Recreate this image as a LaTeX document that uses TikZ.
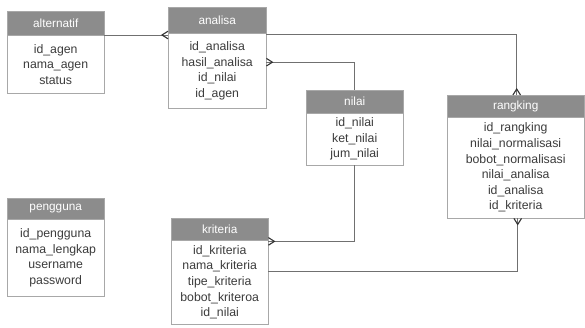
\documentclass[tikz,border=0pt]{standalone}
\usepackage{fontspec}
\setmainfont{Liberation Sans}
\usetikzlibrary{shadows}
\definecolor{hdrgray}{HTML}{8C8C8C}
\definecolor{boxgray}{HTML}{A8A8A8}
\definecolor{txtgray}{HTML}{3C3C3C}
\definecolor{linegray}{HTML}{707070}
\begin{document}
\begin{tikzpicture}[x=1pt,y=-1pt,
 shd/.style={drop shadow={shadow xshift=1.2pt, shadow yshift=-1.2pt, opacity=0.22, fill=black}},
 hdr/.style={draw=boxgray, fill=hdrgray, text=white, inner sep=0pt, anchor=north west, shd,
   font=\fontsize{11.8}{13}\selectfont},
 tbody/.style={draw=boxgray, fill=white, text=txtgray, inner sep=0pt, anchor=north west, align=center, shd,
   font=\fontsize{12.3}{15.6}\selectfont},
 conn/.style={draw=linegray, line width=0.8pt},
 foot/.style={draw=black!80, line width=1.1pt},
 footW/.pic={\draw[foot] (0,-3.8) -- (-6,0) -- (0,3.8);},
 footE/.pic={\draw[foot] (0,-3.8) -- (6,0) -- (0,3.8);},
 footN/.pic={\draw[foot] (-3.8,0) -- (0,-6) -- (3.8,0);},
 footS/.pic={\draw[foot] (-3.8,0) -- (0,6) -- (3.8,0);}
]
\useasboundingbox (0,0) rectangle (585,327);
\fill[white] (0,0) rectangle (585,327);

% alternatif
\node[hdr, minimum width=97pt, minimum height=24pt] (alt-h) at (7,11) {alternatif};
\node[tbody, minimum width=97pt, minimum height=58pt] (alt) at (7,35) {id\_agen\\nama\_agen\\status};

% analisa
\node[hdr, minimum width=98pt, minimum height=26pt] (ana-h) at (168,7) {analisa};
\node[tbody, minimum width=98pt, minimum height=75pt] (ana) at (168,33) {id\_analisa\\hasil\_analisa\\id\_nilai\\id\_agen};

% nilai
\node[hdr, minimum width=97pt, minimum height=23pt] (nil-h) at (306,90) {nilai};
\node[tbody, minimum width=97pt, minimum height=52pt] (nil) at (306,113) {id\_nilai\\ket\_nilai\\jum\_nilai};

% rangking
\node[hdr, minimum width=137pt, minimum height=22pt] (rank-h) at (447,95) {rangking};
\node[tbody, minimum width=137pt, minimum height=101pt] (rank) at (447,117) {id\_rangking\\nilai\_normalisasi\\bobot\_normalisasi\\nilai\_analisa\\id\_analisa\\id\_kriteria};

% pengguna
\node[hdr, minimum width=97pt, minimum height=21pt] (pen-h) at (7,198) {pengguna};
\node[tbody, minimum width=97pt, minimum height=77pt] (pen) at (7,219) {id\_pengguna\\nama\_lengkap\\username\\password};

% kriteria
\node[hdr, minimum width=97pt, minimum height=22pt] (kri-h) at (171,218) {kriteria};
\node[tbody, minimum width=97pt, minimum height=84pt] (kri) at (171,240) {id\_kriteria\\nama\_kriteria\\tipe\_kriteria\\bobot\_kriteroa\\id\_nilai};

% connectors
\draw[conn] (alt.north east) -- (alt.north east -| ana.west) pic{footW};
\draw[conn] ([yshift=-1.5pt]ana.north east) -| ([xshift=1pt]rank-h.north) pic{footN};
\draw[conn] ([yshift=8.5pt]ana.east) pic{footE} -| (nil-h.north);
\draw[conn] (nil.south) |- ([yshift=-1pt]kri-h.south east) pic{footE};
\draw[conn] ([yshift=11pt]kri.east) -| ([xshift=2pt]rank.south) pic{footS};
\end{tikzpicture}
\end{document}
